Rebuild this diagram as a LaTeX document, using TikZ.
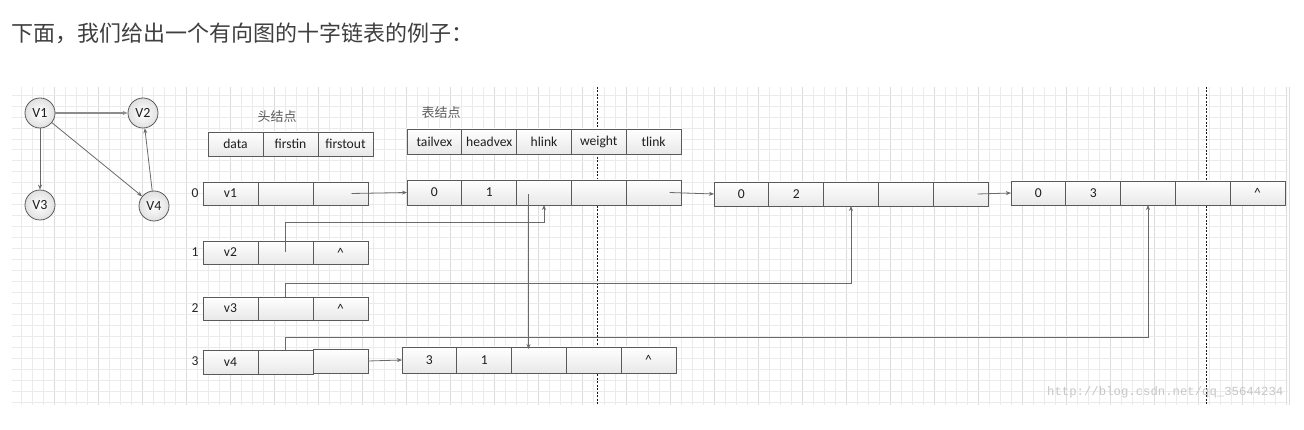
\documentclass[tikz,border=0pt]{standalone}
\usepackage{fontspec}
\setmainfont{Carlito}
\newfontfamily\cjk{Noto Sans CJK SC}
\newfontfamily\wmfont{Liberation Mono}
\usetikzlibrary{arrows.meta,calc}
\definecolor{edgec}{HTML}{5A5A5A}
\definecolor{linkc}{HTML}{6A6A6A}
\definecolor{gridc}{HTML}{EBEBEB}
\definecolor{gridd}{HTML}{DCDCDC}
\definecolor{titlec}{HTML}{3F3F3F}
\definecolor{labc}{HTML}{5C5C5C}
\begin{document}
\begin{tikzpicture}[x=1pt,y=-1pt,
  cellbox/.style={draw=edgec, line width=0.8pt, minimum width=55pt, minimum height=23pt,
    inner sep=0pt, outer sep=0pt, top color=white, bottom color=black!9, anchor=north west,
    text=black!88, font=\fontsize{13.6}{15}\selectfont},
  ecell/.style={cellbox, minimum width=54.8pt},
  vert/.style={circle, draw=edgec, line width=0.8pt, minimum size=30pt, inner sep=0pt,
    inner color=white, outer color=black!12, text=black!88, font=\fontsize{14}{16}\selectfont},
  arr/.style={draw=linkc, line width=0.8pt, -{Stealth[length=5pt,width=4pt]}},
  cjklab/.style={font=\cjk\fontsize{13}{15}\selectfont, text=labc, inner sep=0pt},
  rowlab/.style={font=\fontsize{13.6}{15}\selectfont, text=black!85, inner sep=0pt},
  gridline/.style={draw=gridc, line width=0.6pt},
  gridmajor/.style={draw=gridd, line width=0.6pt},
  divline/.style={draw=black!90, line width=0.8pt, dash pattern=on 2pt off 1.5pt}
]
\useasboundingbox (0,0) rectangle (1304,430);
\fill[white] (0,0) rectangle (1304,430);

% grid
\foreach \x in {21,32,...,1286} \draw[gridline] (\x,87) -- (\x,405);
\foreach \x in {54,98,...,1286} \draw[gridmajor] (\x,87) -- (\x,405);
\foreach \y in {95,105.96,...,404} \draw[gridline] (12,\y) -- (1288,\y);
\draw[draw=black!20!blue!15!white, line width=1pt] (1289,87) -- (1289,405);

% dashed page separators
\draw[divline] (597,87) -- (597,405);
\draw[divline] (1206,87) -- (1206,405);

% title
\node[anchor=west, text=titlec, font=\cjk\fontsize{22}{24}\selectfont, inner sep=0pt] (title) at (11,33) {下面，我们给出一个有向图的十字链表的例子：};

% small directed graph
\node[vert] (v1) at (40,113) {V1};
\node[vert] (v2) at (143,113) {V2};
\node[vert] (v3) at (40,205) {V3};
\node[vert] (v4) at (154,206) {V4};
\draw[arr, line width=1.3pt, draw=black!45] (v1) -- (v2);
\draw[arr] (v1) -- (v3);
\draw[arr] (v1) -- (v4);
\draw[arr] (v4) -- (v2);

% captions
\node[cjklab] (lhead) at (277,117) {头结点};
\node[cjklab] (ledge) at (441,113) {表结点};

% head node header
\node[cellbox, minimum height=24pt] (hd1) at (208,132) {data};
\node[cellbox, minimum height=24pt] (hd2) at (263,132) {firstin};
\node[cellbox, minimum height=24pt] (hd3) at (318,132) {firstout};

% edge node header
\node[ecell, minimum height=25pt] (ed1) at (407,129) {tailvex};
\node[ecell, minimum height=25pt] (ed2) at (461.8,129) {headvex};
\node[ecell, minimum height=25pt] (ed3) at (516.6,129) {hlink};
\node[ecell, minimum height=25pt] (ed4) at (571.4,129) {weight};
\node[ecell, minimum height=25pt] (ed5) at (626.2,129) {tlink};

% row labels
\node[rowlab] (r0) at (195,193) {0};
\node[rowlab] (r1) at (195,252) {1};
\node[rowlab] (r2) at (195,308) {2};
\node[rowlab] (r3) at (195,361) {3};

% vertex list
\node[cellbox] (h0a) at (203,182) {v1};
\node[cellbox] (h0b) at (258,182) {};
\node[cellbox] (h0c) at (313,182) {};
\node[cellbox] (h1a) at (203,241) {v2};
\node[cellbox] (h1b) at (258,241) {};
\node[cellbox] (h1c) at (313,241) {\textasciicircum};
\node[cellbox] (h2a) at (203,297) {v3};
\node[cellbox] (h2b) at (258,297) {};
\node[cellbox] (h2c) at (313,297) {\textasciicircum};
\node[cellbox, minimum height=24pt] (h3a) at (203,350) {v4};
\node[cellbox, minimum height=24pt] (h3b) at (258,350) {};
\node[cellbox, minimum height=24pt] (h3c) at (313,349) {};

% edge nodes
\node[ecell, minimum height=25pt] (e1a) at (407,180) {0};
\node[ecell, minimum height=25pt] (e1b) at (461.8,180) {1};
\node[ecell, minimum height=25pt] (e1c) at (516.6,180) {};
\node[ecell, minimum height=25pt] (e1d) at (571.4,180) {};
\node[ecell, minimum height=25pt] (e1e) at (626.2,180) {};

\node[ecell, minimum height=24pt] (e2a) at (714,182) {0};
\node[ecell, minimum height=24pt] (e2b) at (768.8,182) {2};
\node[ecell, minimum height=24pt] (e2c) at (823.6,182) {};
\node[ecell, minimum height=24pt] (e2d) at (878.4,182) {};
\node[ecell, minimum height=24pt] (e2e) at (933.2,182) {};

\node[ecell, minimum height=24pt] (e3a) at (1011,181) {0};
\node[ecell, minimum height=24pt] (e3b) at (1065.8,181) {3};
\node[ecell, minimum height=24pt] (e3c) at (1120.6,181) {};
\node[ecell, minimum height=24pt] (e3d) at (1175.4,181) {};
\node[ecell, minimum height=24pt] (e3e) at (1230.2,181) {\textasciicircum};

\node[ecell, minimum height=26pt] (e4a) at (402,347) {3};
\node[ecell, minimum height=26pt] (e4b) at (456.8,347) {1};
\node[ecell, minimum height=26pt] (e4c) at (511.6,347) {};
\node[ecell, minimum height=26pt] (e4d) at (566.4,347) {};
\node[ecell, minimum height=26pt] (e4e) at (621.2,347) {\textasciicircum};

% out links (tlink chain)
\draw[arr] ([xshift=11pt]h0c.center) -- (e1a.west);
\draw[arr] ([xshift=16pt]e1e.center) -- (e2a.west);
\draw[arr] ([xshift=17pt]e2e.center) -- (e3a.west);
\draw[arr] (h3c.east) -- (e4a.west);

% hlink of edge 0->1 down to edge 3->1
\draw[arr] ([xshift=-15.5pt,yshift=-2pt]e1c.center) -- ([xshift=-15.5pt,yshift=-2pt]e1c.center |- e4c.north);

% in links (firstin)
\draw[arr] (h1b.center) -- ++(0,-30.5) -| (e1c.south);
\draw[arr] (h2b.north) -- ++(0,-14) -| (e2c.south);
\draw[arr] (h3b.north) -- ++(0,-13) -| (e3c.south);

% watermark
\node[anchor=west, font=\wmfont\fontsize{12.3}{14}\selectfont, text=black!22, inner sep=0pt] (wm) at (1047,392) {http://blog.csdn.net/qq\_35644234};
\end{tikzpicture}
\end{document}
